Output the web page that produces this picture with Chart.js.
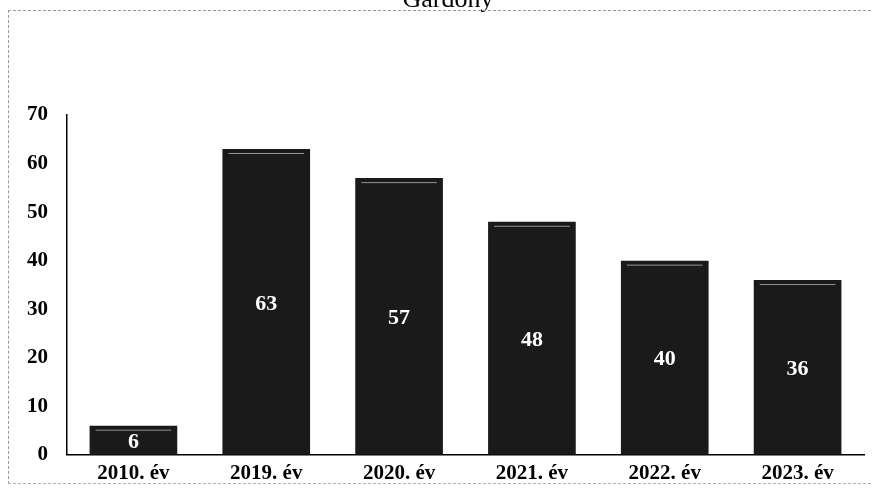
<!DOCTYPE html>
<html>
<head>
<meta charset="utf-8">
<script src="https://cdn.jsdelivr.net/npm/chart.js@4/dist/chart.umd.min.js"></script>
<style>
  html, body { margin: 0; padding: 0; background: #fff; overflow: hidden; }
  #wrap {
    position: relative;
    width: 872px;
    height: 489px;
    overflow: hidden;
  }
  #frame {
    position: absolute;
    left: 8px;
    top: 10px;
    width: 872px;
    height: 472px;
    border-left: 1px dashed #9a9a9a;
    border-top: 1px dashed #9a9a9a;
    border-bottom: 1px dashed #b0b0b0;
    pointer-events: none;
  }
</style>
</head>
<body>
<div id="wrap">
  <canvas id="chart" width="872" height="492"></canvas>
  <div id="frame"></div>
</div>
<script>
const title = "Gárdony";
const years = ["2010. év", "2019. év", "2020. év", "2021. év", "2022. év", "2023. év"];
const values = [6, 63, 57, 48, 40, 36];
const yTicks = [0, 10, 20, 30, 40, 50, 60, 70];

const FONT = "'Liberation Serif', 'Times New Roman', serif";

// title is cut by the top edge of the scan, only the lower part shows
const cutTitle = {
  id: "cutTitle",
  afterDraw(chart) {
    const ctx = chart.ctx;
    ctx.save();
    ctx.fillStyle = "#000";
    ctx.font = "26px " + FONT;
    ctx.textAlign = "center";
    ctx.textBaseline = "alphabetic";
    ctx.fillText(title, 448, 7);
    ctx.restore();
  },
};

// white value numbers in the middle of each bar + the pale line the scan left near each bar top
const barLabels = {
  id: "barLabels",
  afterDatasetsDraw(chart) {
    const ctx = chart.ctx;
    const meta = chart.getDatasetMeta(0);
    ctx.save();
    meta.data.forEach((bar) => {
      ctx.strokeStyle = "rgba(200,200,200,0.7)";
      ctx.lineWidth = 1;
      ctx.beginPath();
      ctx.moveTo(bar.x - bar.width / 2 + 6, bar.y + 4.5);
      ctx.lineTo(bar.x + bar.width / 2 - 6, bar.y + 4.5);
      ctx.stroke();
    });
    ctx.font = "bold 22px " + FONT;
    ctx.fillStyle = "#fff";
    ctx.textAlign = "center";
    ctx.textBaseline = "middle";
    meta.data.forEach((bar, i) => {
      const mid = (bar.y + bar.base) / 2;
      ctx.fillText(String(values[i]), bar.x, mid + 2);
    });
    ctx.restore();
  },
};

new Chart(document.getElementById("chart"), {
  type: "bar",
  data: {
    labels: years,
    datasets: [
      {
        data: values,
        backgroundColor: "#1a1a1a",
        borderWidth: 0,
        barPercentage: 0.66,
        categoryPercentage: 1,
      },
    ],
  },
  options: {
    responsive: false,
    animation: false,
    layout: {
      padding: { left: 8, right: 8, top: 115, bottom: 0 },
    },
    plugins: {
      legend: { display: false },
      tooltip: { enabled: false },
      title: { display: false },
    },
    scales: {
      x: {
        grid: { display: false, drawTicks: false },
        border: { color: "#000", width: 1.5 },
        ticks: {
          color: "#000",
          padding: 6,
          font: { family: FONT, size: 21, weight: "bold" },
        },
      },
      y: {
        min: 0,
        max: 70,
        afterBuildTicks(axis) {
          axis.ticks = yTicks.map((v) => ({ value: v }));
        },
        grid: { display: false, drawTicks: false },
        border: { color: "#000", width: 1.5 },
        ticks: {
          color: "#000",
          padding: 19,
          font: { family: FONT, size: 21, weight: "bold" },
        },
      },
    },
  },
  plugins: [cutTitle, barLabels],
});
</script>
</body>
</html>
